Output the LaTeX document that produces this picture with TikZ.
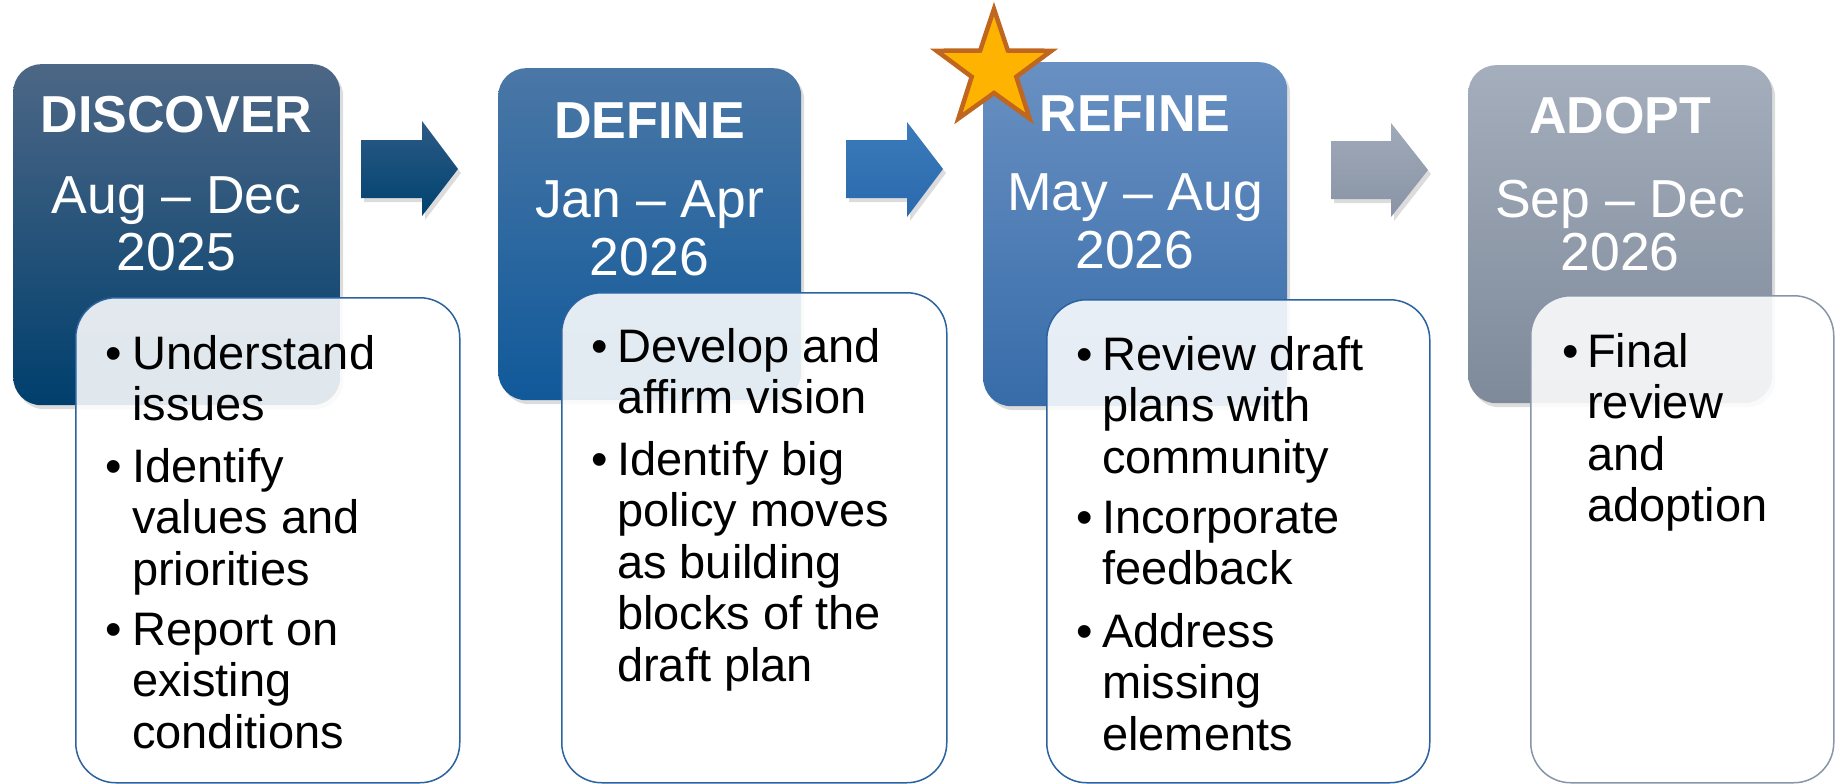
\documentclass[tikz,border=0pt]{standalone}
\usepackage{fontspec}
\setmainfont{Liberation Sans}
\usetikzlibrary{shadows}
\definecolor{aTop}{HTML}{4D6786}\definecolor{aBot}{HTML}{003F6D}
\definecolor{bTop}{HTML}{4A77A6}\definecolor{bBot}{HTML}{10599A}
\definecolor{cTop}{HTML}{6990C2}\definecolor{cBot}{HTML}{376CA9}
\definecolor{dTop}{HTML}{A4AEBC}\definecolor{dBot}{HTML}{7E899A}
\definecolor{arATop}{HTML}{2C5A85}\definecolor{arABot}{HTML}{00426F}
\definecolor{arBTop}{HTML}{3B7BBB}\definecolor{arBBot}{HTML}{2A6AAD}
\definecolor{arCTop}{HTML}{A0AAB9}\definecolor{arCBot}{HTML}{8893A5}
\definecolor{blueEdge}{HTML}{2B62A0}
\definecolor{grayEdge}{HTML}{8795A8}
\definecolor{starFill}{HTML}{FDB300}
\definecolor{starEdge}{HTML}{C0661F}
\begin{document}
\begin{tikzpicture}[x=1pt,y=-1pt,
  shad/.style={drop shadow={opacity=0.28, shadow xshift=3pt, shadow yshift=-4pt}},
  phase/.style={shad, rounded corners=28pt, anchor=north west, inner sep=0pt, minimum height=341pt},
  ttl/.style={anchor=base, text=white, inner sep=0pt, font=\fontsize{52}{56}\selectfont\bfseries},
  date/.style={anchor=base, text=white, inner sep=0pt, font=\fontsize{53.5}{57}\selectfont},
  card/.style={rounded corners=40pt, anchor=north west, draw=blueEdge, line width=1.5pt,
    fill=white, fill opacity=0.88, inner sep=0pt, minimum height=485pt},
  itm/.style={anchor=base west, inner sep=0pt, align=left, font=\fontsize{47}{51.5}\selectfont},
  bul/.style={anchor=base, inner sep=0pt, font=\fontsize{47}{51.5}\selectfont},
  blockarrow/.style={shad}
]
\useasboundingbox (0,0) rectangle (1839,784);

% phase boxes
\node[phase, top color=aTop, bottom color=aBot, minimum width=327pt] (p1) at (13,64) {};
\node[phase, top color=bTop, bottom color=bBot, minimum width=303pt, minimum height=332pt] (p2) at (498,68) {};
\node[phase, top color=cTop, bottom color=cBot, minimum width=304pt, minimum height=344pt] (p3) at (983,62) {};
\node[phase, top color=dTop, bottom color=dBot, minimum width=304pt, minimum height=338pt] (p4) at (1468,65) {};

\node[ttl] (t1) at (176.5,132) {DISCOVER};
\node[date] (d1a) at (176.5,213) {Aug – Dec};
\node[date] (d1b) at (176.5,270) {2025};
\node[ttl] (t2) at (649.5,138) {DEFINE};
\node[date] (d2a) at (649.5,217) {Jan – Apr};
\node[date] (d2b) at (649.5,275) {2026};
\node[ttl] (t3) at (1135,131) {REFINE};
\node[date] (d3a) at (1135,210) {May – Aug};
\node[date] (d3b) at (1135,268) {2026};
\node[ttl] (t4) at (1620,133) {ADOPT};
\node[date] (d4a) at (1620,217) {Sep – Dec};
\node[date] (d4b) at (1620,270) {2026};

% block arrows
\path[blockarrow, top color=arATop, bottom color=arABot]
  (361,140) -- (422,140) -- (422,121) -- (458,169) -- (422,216) -- (422,198) -- (361,198) -- cycle;
\path[blockarrow, top color=arBTop, bottom color=arBBot]
  (846,140) -- (907,140) -- (907,122) -- (943,169) -- (907,217) -- (907,198) -- (846,198) -- cycle;
\path[blockarrow, top color=arCTop, bottom color=arCBot]
  (1331,141) -- (1391,141) -- (1391,123) -- (1428,170) -- (1391,217) -- (1391,199) -- (1331,199) -- cycle;

% cards
\node[card, minimum width=384pt] (c1) at (75,297) {};
\node[card, minimum width=385pt, minimum height=490pt] (c2) at (561,292) {};
\node[card, minimum width=383pt, minimum height=483pt] (c3) at (1046,299) {};
\node[card, draw=grayEdge, minimum width=303pt, minimum height=487pt] (c4) at (1530,295) {};

% card 1 (item nodes anchored at the baseline of their last line)
\node[bul] (b11) at (114,369) {•};
\node[itm] (i11) at (132,420.5) {Understand\\issues};
\node[bul] (b12) at (114,482) {•};
\node[itm] (i12) at (132,585) {Identify\\values and\\priorities};
\node[bul] (b13) at (114,645) {•};
\node[itm] (i13) at (132,748) {Report on\\existing\\conditions};
% card 2
\node[bul] (b21) at (600,362) {•};
\node[itm] (i21) at (617,413.5) {Develop and\\affirm vision};
\node[bul] (b22) at (600,475) {•};
\node[itm] (i22) at (617,681) {Identify big\\policy moves\\as building\\blocks of the\\draft plan};
% card 3
\node[bul] (b31) at (1085,370) {•};
\node[itm] (i31) at (1102,473) {Review draft\\plans with\\community};
\node[bul] (b32) at (1085,533) {•};
\node[itm] (i32) at (1102,584.5) {Incorporate\\feedback};
\node[bul] (b33) at (1085,647) {•};
\node[itm] (i33) at (1102,750) {Address\\missing\\elements};
% card 4
\node[bul] (b41) at (1571,367) {•};
\node[itm] (i41) at (1587,521.5) {Final\\review\\and\\adoption};

% star
\draw[fill=starFill, draw=starEdge, line width=4.5pt, line join=miter]
  (994,9) -- (1007.8,50.5) -- (1051.4,50.8) -- (1016.3,76.8) -- (1029.6,118.5) -- (994,93)
  -- (958.4,118.5) -- (971.7,76.8) -- (936.6,50.8) -- (980.2,50.5) -- cycle;
\end{tikzpicture}
\end{document}
